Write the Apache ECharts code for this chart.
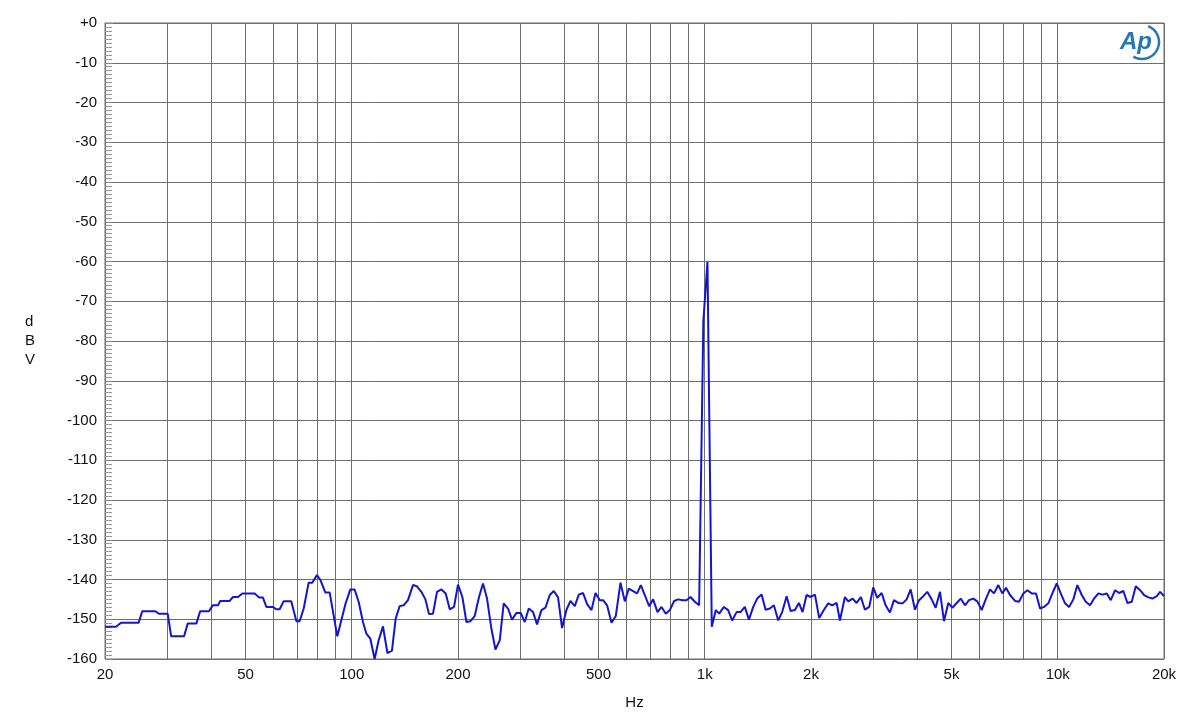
<!DOCTYPE html>
<html>
<head>
<meta charset="utf-8">
<script src="https://cdn.jsdelivr.net/npm/echarts@6/dist/echarts.min.js"></script>
<style>
html,body{margin:0;padding:0;background:#fff;}
#chart{width:1200px;height:719px;}
</style>
</head>
<body>
<div id="chart"></div>
<script>
// Frequency (Hz) and level (dBV)
var freqHz = [
 20,21.5,22.2,24.9,25.5,27.8,28.4,30.1,30.8,33.5,34.3,36.3,37.2,39.4,40.4,41.8,42.4,45.1,46.1,47.6,
 49.0,53.1,54.6,56.0,57.3,59.8,61.1,62.5,64.1,67.4,69.7,71.2,73.1,75.5,77.3,79.7,81.6,84.2,86.6,91.0,96.1,
 99.1,101.9,104.6,107.6,110.0,112.9,116.1,119.2,122.6,126.2,130.0,133.2,136.7,140.3,144.3,149.1,153.0,157.5,
 161.7,165.5,169.9,174.4,179.5,184.6,189.5,194.9,200.0,205.8,211.3,216.9,223.0,229.4,235.4,241.7,248.7,255.3,
 262.6,269.5,277.2,284.5,292.8,301.1,309.1,317.3,326.3,334.9,344.7,353.8,363.9,373.5,384.1,394.3,405.8,416.5,
 428.4,439.7,452.2,464.2,477.7,490.4,504.3,
 515.3,528.9,544.3,559.8,577.2,593.6,609.3,626.7,643.3,659.0,676.4,695.7,714.1,734.9,754.3,775.8,796.3,819.0,
 840.6,865.1,888.0,911.5,937.4,964.1,991,1018,1047,1075,1099,1133,1165,1196,1231,1263,1299,1334,1372,1408,
 1449,1487,1529,1570,1615,1657,1706,1751,1801,1848,1893,1943,1995,2052,2110,2176,2238,2297,2364,2415,
 2495,2550,2624,2693,2770,2843,2924,3001,3081,3171,3254,3347,3436,3534,3636,3733,3831,3941,4045,4160,4270,
 4394,4510,4639,4762,4897,5027,5173,5310,5461,5606,5765,5918,6090,6251,6429,6599,6787,6966,7137,7325,7568,
 7769,7990,8201,8440,8680,8910,9146,9406,9655,9936,10198,10488,10765,11072,11365,11696,12005,12347,12673,
 13034,13379,13769,14133,14535,14920,15344,15750,16209,16638,17112,17564,18065,18541,19082,19497,20000
];
var levelDbv = [
 -151.9,-151.9,-150.9,-150.9,-148,-148,-148.6,-148.6,-154.3,-154.3,-151.1,-151.1,-148,-148,-146.5,-146.5,-145.4,-145.4,-144.4,-144.4,
 -143.5,-143.5,-144.5,-144.5,-146.9,-146.9,-147.5,-147.5,-145.5,-145.5,-150.5,-150.5,-147.3,-140.8,-140.8,-138.9,-140.2,-143.3,-143.3,-154.3,-146,
 -142.5,-142.5,-145.6,-150.7,-153.6,-154.9,-160,-155.3,-151.8,-158.5,-157.9,-149.8,-146.7,-146.5,-145.2,-141.4,-141.7,-143.1,
 -145,-148.7,-148.6,-143.1,-142.5,-143.5,-147.5,-146.9,-141.3,-144.4,-150.7,-150.5,-149.2,-144.4,-141,-144.8,-152.4,-157.6,
 -155.3,-146,-147.3,-150.1,-148.4,-148.4,-150.7,-147.3,-148.2,-151.3,-147.7,-147.1,-143.9,-142.9,-144.5,-152.2,-147.6,-145.4,
 -146.7,-143.8,-143.4,-146.2,-147.7,-143.4,-145.2,
 -145.2,-146.5,-150.9,-149.2,-140.8,-145.5,-142.3,-142.9,-143.5,-141.4,-143.9,-146.7,-145,-148.2,-146.9,-148.6,-147.7,-145.4,
 -145,-145.2,-145.2,-144.4,-145.6,-146.5,-75,-60.1,-151.9,-147.7,-148.6,-146.9,-147.7,-150.3,-148.2,-148.2,-146.9,-150.1,-146.9,-144.8,
 -143.8,-147.6,-147.3,-146.5,-150.3,-148.2,-144.2,-147.9,-147.7,-145.9,-148.2,-143.9,-144.4,-143.8,-149.7,-147.6,-146,-146.5,-145.9,-150.3,
 -144.4,-145.5,-144.8,-145.9,-144.4,-147.6,-146.9,-142,-144.6,-143.4,-146.5,-148.3,-145.2,-145.9,-146,-145,-142.5,-147.6,-145.2,-144.2,-143.1,
 -145,-147.1,-143.1,-150.5,-145.9,-147.1,-145.9,-144.8,-146.5,-145.2,-144.8,-145.5,-147.7,-145,-142.5,-143.5,-141.4,-143.5,-142.1,-143.9,-145.4,
 -145.6,-143.5,-142.7,-143.5,-143.5,-147.3,-146.9,-146,-143.5,-141,-143.5,-146,-146.9,-145,-141.4,-143.9,-145.6,-146.5,-144.8,
 -143.5,-143.8,-143.5,-145.2,-142.7,-143.4,-142.9,-145.9,-145.6,-141.7,-142.7,-143.9,-144.5,-144.8,-144.2,-143.1,-144.2
];
// Axis grid and label values
var xGridHz = [20,30,40,50,60,70,80,90,100,200,300,400,500,600,700,800,900,1000,2000,3000,4000,5000,6000,7000,8000,9000,10000,20000];
var xLabelHz = [20,50,100,200,500,1000,2000,5000,10000,20000];
var yMin = -160, yMax = 0, yStep = 10;

var seriesData = freqHz.map(function (f, i) { return [f, levelDbv[i]]; });

var chart = echarts.init(document.getElementById('chart'), null, {renderer: 'canvas'});
var FONT = '"Liberation Sans", Arial, sans-serif';
var gridColor = '#6e6e6e';

chart.setOption({
  animation: false,
  backgroundColor: '#ffffff',
  grid: {left: 105, right: 36, top: 23, bottom: 60, show: true, borderColor: gridColor, borderWidth: 1, containLabel: false},
  xAxis: {
    type: 'log', logBase: 10, min: 20, max: 20000,
    name: 'Hz', nameLocation: 'middle', nameGap: 36,
    nameTextStyle: {fontFamily: FONT, fontSize: 15, color: '#111'},
    axisLine: {show: true, lineStyle: {color: gridColor}},
    axisTick: {show: false, customValues: xGridHz},
    minorTick: {show: false},
    axisLabel: {
      customValues: xLabelHz, margin: 8, fontFamily: FONT, fontSize: 15, color: '#111',
      formatter: function (v) { var r = Math.round(v); return r >= 1000 ? (r / 1000) + 'k' : String(r); }
    },
    splitLine: {show: true, lineStyle: {color: gridColor, width: 1}},
    minorSplitLine: {show: false}
  },
  yAxis: {
    type: 'value', min: yMin, max: yMax, interval: yStep,
    axisLine: {show: true, lineStyle: {color: gridColor}},
    axisTick: {show: true, inside: true, length: 8, lineStyle: {color: '#888'}},
    minorTick: {show: true, splitNumber: 10, length: 7, lineStyle: {color: '#999'}},
    axisLabel: {
      margin: 8, fontFamily: FONT, fontSize: 15, color: '#111',
      formatter: function (v) { return v === 0 ? '+0' : String(v); }
    },
    splitLine: {show: true, lineStyle: {color: gridColor, width: 1}}
  },
  graphic: [
    {type: 'text', left: 25, top: 312, style: {text: 'd\nB\nV', fontFamily: FONT, fontSize: 15, lineHeight: 19, fill: '#111', align: 'center'}},
    {type: 'text', x: 1120, y: 30, style: {text: 'Ap', fontFamily: FONT, fontSize: 24, fontStyle: 'italic', fontWeight: 'bold', fill: '#2576b8'}},
    {type: 'arc', shape: {cx: 1142, cy: 42, r: 17, startAngle: -1.2, endAngle: 2.1, clockwise: true}, style: {stroke: '#2576b8', lineWidth: 2.5, fill: null}}
  ],
  series: [{
    type: 'line', data: seriesData, showSymbol: false, symbol: 'none',
    lineStyle: {color: '#1414d4', width: 2}, clip: true
  }]
});
</script>
</body>
</html>
